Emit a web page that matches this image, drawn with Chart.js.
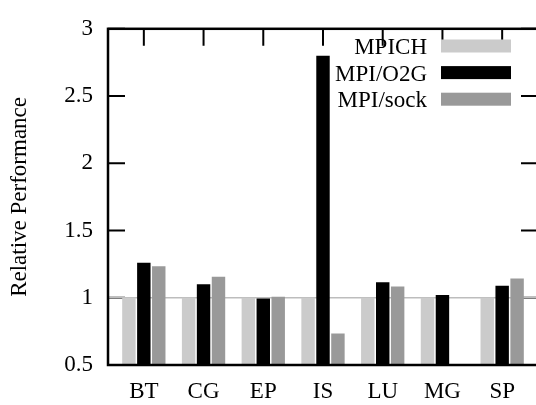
<!DOCTYPE html>
<html>
<head>
<meta charset="utf-8">
<script src="https://cdn.jsdelivr.net/npm/chart.js@4.4.1/dist/chart.umd.min.js"></script>
<style>
  html, body { margin: 0; padding: 0; background: #fff; overflow: hidden; }
  #wrap { width: 536px; height: 405px; overflow: hidden; }
</style>
</head>
<body>
<div id="wrap"><canvas id="chart" width="540" height="405"></canvas></div>
<script>
// benchmarks on the x axis
const categories = ["BT", "CG", "EP", "IS", "LU", "MG", "SP"];
const yTicks = [0.5, 1, 1.5, 2, 2.5, 3];

// relative performance
const mpich = [1, 1, 1, 1, 1, 1, 1];
const mpiO2G = [1.26, 1.10, 0.995, 2.80, 1.115, 1.02, 1.09];
const mpiSock = [1.235, 1.157, 1.007, 0.735, 1.083, null, 1.143];

const seriesNames = ["MPICH", "MPI/O2G", "MPI/sock"];
const seriesColors = ["#cbcbcb", "#000000", "#999999"];

const FONT = "Liberation Serif";

function toPoints(values) {
    return values.map((v, i) => ({ x: i, y: v }));
}

// gnuplot look: thick frame, ticks pointing inward on all four sides
const framePlugin = {
    id: "frame",
    beforeDatasetsDraw(chart) {
        const { ctx, chartArea: a, scales } = chart;
        const len = 17;
        ctx.save();
        ctx.strokeStyle = "#000";
        ctx.lineWidth = 2;
        ctx.beginPath();
        yTicks.forEach(v => {
            const y = scales.y.getPixelForValue(v);
            ctx.moveTo(a.left, y); ctx.lineTo(a.left + len, y);
            ctx.moveTo(a.right, y); ctx.lineTo(a.right - len, y);
        });
        categories.forEach((c, i) => {
            const x = scales.x.getPixelForValue(i);
            ctx.moveTo(x, a.top); ctx.lineTo(x, a.top + len);
            ctx.moveTo(x, a.bottom); ctx.lineTo(x, a.bottom - len);
        });
        ctx.stroke();
        // reference line at 1
        const y1 = scales.y.getPixelForValue(1);
        ctx.strokeStyle = "#bdbdbd";
        ctx.lineWidth = 1.5;
        ctx.beginPath();
        ctx.moveTo(a.left, y1); ctx.lineTo(a.right, y1);
        ctx.stroke();
        ctx.restore();
    },
    afterDatasetsDraw(chart) {
        const { ctx, chartArea: a } = chart;
        ctx.save();
        ctx.strokeStyle = "#000";
        ctx.lineWidth = 2.5;
        ctx.strokeRect(a.left, a.top, a.right - a.left, a.bottom - a.top);

        // key: label on the left, long swatch on the right
        ctx.font = "23px '" + FONT + "'";
        ctx.textAlign = "right";
        ctx.textBaseline = "alphabetic";
        chart.data.datasets.forEach((ds, i) => {
            const cy = 46 + i * 26.6;
            ctx.fillStyle = "#000";
            ctx.fillText(ds.label, 427, cy + 8);
            ctx.fillStyle = ds.backgroundColor;
            ctx.fillRect(441, cy - 6.5, 70, 13);
        });
        ctx.restore();
    }
};

new Chart(document.getElementById("chart"), {
    type: "bar",
    data: {
        datasets: [
            { label: seriesNames[0], data: toPoints(mpich), backgroundColor: seriesColors[0] },
            { label: seriesNames[1], data: toPoints(mpiO2G), backgroundColor: seriesColors[1] },
            { label: seriesNames[2], data: toPoints(mpiSock), backgroundColor: seriesColors[2] }
        ]
    },
    options: {
        responsive: false,
        animation: false,
        devicePixelRatio: 1,
        layout: { padding: { top: 15, right: 2, left: 0, bottom: 0 } },
        datasets: {
            bar: {
                categoryPercentage: 0.75,
                barPercentage: 0.9
            }
        },
        plugins: {
            legend: { display: false },
            tooltip: { enabled: false }
        },
        scales: {
            x: {
                type: "linear",
                min: -0.6,
                max: 6.6,
                offset: false,
                grid: { display: false, drawTicks: false },
                border: { display: false },
                afterFit: s => { s.height = 40; },
                ticks: {
                    stepSize: 1,
                    includeBounds: false,
                    autoSkip: false,
                    maxRotation: 0,
                    padding: 13,
                    color: "#000",
                    font: { family: FONT, size: 23 },
                    callback: v => categories[v] ?? ""
                }
            },
            y: {
                min: 0.5,
                max: 3,
                grid: { display: false, drawTicks: false },
                border: { display: false },
                afterFit: s => { s.width = 108; },
                ticks: {
                    stepSize: 0.5,
                    padding: 15,
                    color: "#000",
                    font: { family: FONT, size: 23 },
                    callback: v => String(v)
                },
                title: {
                    display: true,
                    text: "Relative Performance",
                    color: "#000",
                    padding: { top: 6, bottom: 0 },
                    font: { family: FONT, size: 23 }
                }
            }
        }
    },
    plugins: [framePlugin]
});
</script>
</body>
</html>
